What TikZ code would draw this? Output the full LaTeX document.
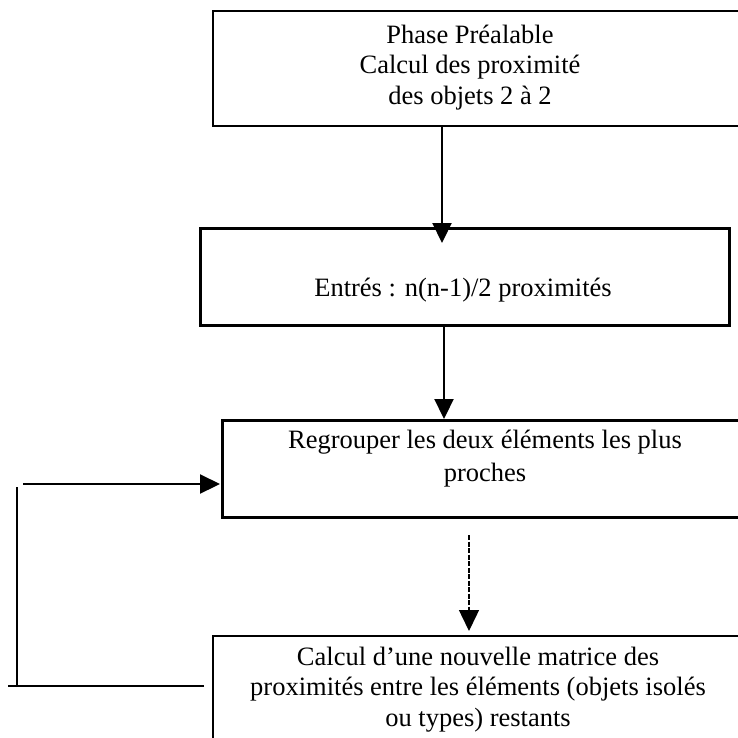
\documentclass[tikz,border=0pt]{standalone}
\usepackage{fontspec}
\setmainfont{Liberation Serif}
\usetikzlibrary{arrows.meta}

\tikzset{
  box/.style={draw=black, fill=none, rectangle, anchor=north west, inner sep=0pt},
  txt/.style={anchor=north, inner sep=0pt, align=center,
    font=\fontsize{26.5pt}{30.5pt}\selectfont, execute at begin node=\strut},
  link/.style={draw=black, line width=2.2pt},
  arr/.style={link, -{Triangle[length=20pt, width=19pt]}},
  lightarr/.style={draw=black, line width=1.4pt, dash pattern=on 5pt off 1.5pt,
    -{Triangle[length=21pt, width=20pt]}}
}

\begin{document}
\begin{tikzpicture}[x=1pt, y=-1pt]
  \clip (0,0) rectangle (738,737);
  \useasboundingbox (0,0) rectangle (738,737);

  % process boxes (the right-hand and lower ones run past the page edge)
  \node[box, line width=2pt,   minimum width=540pt, minimum height=115pt] (b1) at (212,10) {};
  \node[box, line width=3pt,   minimum width=529pt, minimum height=97pt]  (b2) at (199,227) {};
  \node[box, line width=2.5pt, minimum width=540pt, minimum height=97pt]  (b3) at (221,419) {};
  \node[box, line width=2pt,   minimum width=540pt, minimum height=130pt] (b4) at (212,635) {};

  % box texts
  \node[txt] (t1) at (470,24.65) {Phase Préalable\\Calcul des proximité\\des objets 2 à 2};
  \node[txt] (t2) at (463,274.65) {Entrés : n(n-1)/2 proximités};
  \node[txt, font=\fontsize{26.5pt}{33pt}\selectfont] (t3) at (485,429.9) {Regrouper les deux éléments les plus\\proches};
  \node[txt] (t4) at (478,646.65) {Calcul d'une nouvelle matrice des\\proximités entre les éléments (objets isolés\\ou types) restants};

  % vertical flow
  \coordinate (x1) at (442,0);
  \coordinate (x2) at (444,0);
  \coordinate (x3top) at (469,535);
  \draw[arr] (x1 |- b1.south) -- ([yshift=-16pt]x1 |- b2.north);
  \draw[arr] (x2 |- b2.south) -- (x2 |- b3.north);
  \draw[lightarr, shorten >=4pt] (x3top) -- (x3top |- b4.north);

  % loop back from the new matrix to the grouping step
  \coordinate (l0) at (204,686);
  \coordinate (l1) at (8,686);
  \coordinate (v0) at (17,687);
  \coordinate (v1) at (17,487);
  \coordinate (h0) at (23,484);
  \draw[link] (l0) -- (l1);
  \draw[link] (v0) -- (v1);
  \draw[arr, shorten >=1pt] (h0) -- (h0 -| b3.west);
\end{tikzpicture}
\end{document}
